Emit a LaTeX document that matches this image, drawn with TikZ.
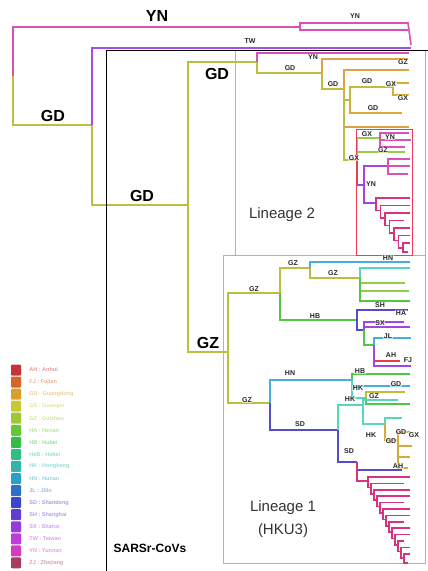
\documentclass[tikz,border=0pt]{standalone}
\usepackage{fontspec}
\setmainfont{Liberation Sans}
\usetikzlibrary{positioning}

\definecolor{cYN}{RGB}{218,80,180}
\definecolor{cTW}{RGB}{165,80,225}
\definecolor{cGD}{RGB}{188,190,64}
\definecolor{cOR}{RGB}{226,160,70}
\definecolor{cGZ}{RGB}{150,205,70}
\definecolor{cHB}{RGB}{80,200,70}
\definecolor{cHN}{RGB}{70,175,220}
\definecolor{cSD}{RGB}{85,75,205}
\definecolor{cSX}{RGB}{160,70,230}
\definecolor{cHK}{RGB}{85,215,190}
\definecolor{cAH}{RGB}{225,60,80}
\definecolor{cZJ}{RGB}{215,50,125}
\definecolor{cAU}{RGB}{212,172,55}
\definecolor{cRB}{RGB}{235,60,90}
% legend colours
\definecolor{lgA}{RGB}{200,50,60}
\definecolor{lgB}{RGB}{215,100,40}
\definecolor{lgC}{RGB}{215,160,40}
\definecolor{lgD}{RGB}{200,200,50}
\definecolor{lgE}{RGB}{160,200,50}
\definecolor{lgF}{RGB}{100,200,50}
\definecolor{lgG}{RGB}{50,190,70}
\definecolor{lgH}{RGB}{50,190,130}
\definecolor{lgI}{RGB}{50,180,170}
\definecolor{lgJ}{RGB}{40,160,200}
\definecolor{lgK}{RGB}{50,110,200}
\definecolor{lgL}{RGB}{60,70,200}
\definecolor{lgM}{RGB}{100,60,210}
\definecolor{lgN}{RGB}{150,60,220}
\definecolor{lgO}{RGB}{190,60,220}
\definecolor{lgP}{RGB}{210,60,190}
\definecolor{lgQ}{RGB}{170,60,100}

\tikzset{
  branch/.style={line width=2.2pt},
  limb/.style={line width=1.6pt},
  twig/.style={line width=1.1pt},
  bigtag/.style={font=\fontsize{16}{16}\selectfont\bfseries, inner sep=0pt},
  tag/.style={font=\fontsize{7}{7}\selectfont\bfseries, text=black!85, inner sep=0.5pt,
    fill=white, fill opacity=0.6, text opacity=1},
  cladelbl/.style={font=\fontsize{15}{23}\selectfont, text=black!80, align=center},
  frame/.style={draw=black!30, line width=0.6pt},
  legsq/.style={rectangle, minimum width=10pt, minimum height=11pt, inner sep=0pt, rounded corners=1pt},
  legtx/.style={font=\fontsize{5.5}{6}\selectfont\bfseries, inner sep=0pt},
}

\begin{document}
\begin{tikzpicture}[x=1pt, y={(0pt,-1pt)}]
\useasboundingbox (0,0) rectangle (428,571);

% clade frames
\draw[frame] (235,50) rectangle (425,255);
\draw[frame] (223,255) rectangle (425,563);

% backbone
\coordinate (root) at (13,76);
\coordinate (yn0) at (300,27);
\coordinate (ynA) at (408,23);
\coordinate (ynB) at (408,30);
\coordinate (ynC) at (411,45);
\coordinate (gd1) at (92,125);
\coordinate (tw) at (411,48);
\coordinate (gd2) at (188,205);
\coordinate (gd3) at (257,62);
\coordinate (gz1) at (228,352);

\draw[branch,cYN] (root) |- (yn0);
\draw[limb,cYN] (yn0) |- (ynA) -- (ynC);
\draw[limb,cYN] (yn0) |- (ynB);
\draw[branch,cGD] (root) |- (gd1);
\draw[branch,cTW] (gd1) |- (tw);
\draw[branch,cGD] (gd1) |- (gd2);
\draw[branch,cGD] (gd2) |- (gd3);
\draw[branch,cGD] (gd2) |- (gz1);

% lineage 2
\coordinate (ynL) at (409,53);
\coordinate (gd4) at (322,73);
\coordinate (gzL) at (408,59);
\coordinate (gd5) at (344,89);
\coordinate (orL) at (409,70);
\coordinate (orL2) at (409,127);
\coordinate (gd6) at (350,100);
\coordinate (gd7) at (393,87);
\coordinate (gxL1) at (409,83);
\coordinate (gxL2) at (409,95);
\coordinate (gdL) at (402,113);
\coordinate (gx1) at (357,160);

\draw[limb,cYN] (gd3) |- (ynL);
\draw[limb,cGD] (gd3) |- (gd4);
\draw[twig,cOR] (gd4) |- (gzL);
\draw[limb,cGD] (gd4) |- (gd5);
\draw[twig,cOR] (gd5) |- (orL);
\draw[twig,cOR] (gd5) |- (orL2);
\draw[limb,cGD] (gd5) |- (gd6);
\draw[limb,cGD] (gd5) |- (gx1);
\draw[twig,cGD] (gd6) |- (gd7);
\draw[twig,cAU] (gd6) |- (gdL);
\draw[twig,cAU] (gd7) |- (gxL1);
\draw[twig,cAU] (gd7) |- (gxL2);

% red box part
\coordinate (gx2) at (380,138);
\coordinate (mgA) at (409,133);
\coordinate (mgB) at (411,140);
\coordinate (mgC) at (405,147);
\coordinate (gzL2) at (405,152);
\coordinate (yn1) at (364,185);
\coordinate (yn2) at (388,166);
\coordinate (mgD) at (410,159);
\coordinate (mgE) at (410,166);
\coordinate (mgF) at (408,174);

\draw[limb,cGZ] (gx1) |- (gx2);
\draw[twig,cGZ] (gx1) |- (gzL2);
\draw[limb,cSX] (gx1) |- (yn1);
\foreach \m in {mgA,mgB,mgC} \draw[limb,cYN] (gx2) |- (\m);
\draw[limb,cSX] (yn1) |- (yn2);
\foreach \m in {mgD,mgE,mgF} \draw[limb,cYN] (yn2) |- (\m);
\foreach \i in {0,...,6}{
  \coordinate (rb\i) at ({376+4.5*\i},{203+7.5*\i});
  \coordinate (rl\i) at ({\i==3 ? 404 : 410},{198+7.5*\i});
}
\coordinate (rb7) at (408,252);
\draw[limb,cSX] (yn1) |- (rb0);
\foreach \i [count=\j] in {0,...,6}{
  \draw[limb,cZJ] (rb\i) |- (rl\i);
  \draw[limb,cZJ] (rb\i) |- (rb\j);
}

% lineage 1
\coordinate (gz2) at (280,293);
\coordinate (gz3) at (270,403);
\coordinate (gz4) at (310,268);
\coordinate (hb1) at (357,320);
\coordinate (hnL) at (410,262);
\coordinate (gz5) at (360,278);
\coordinate (g5a) at (410,268);
\coordinate (g5b) at (405,283);
\coordinate (g5c) at (409,291);
\coordinate (g5d) at (410,301);
\coordinate (shL) at (408,310);
\coordinate (sx1) at (364,330);
\coordinate (sxL) at (404,322);
\coordinate (sxL2) at (410,327);
\coordinate (jl1) at (374,345);
\coordinate (jlL) at (411,338);
\coordinate (ahL) at (400,361);
\coordinate (fjL) at (411,366);

\draw[branch,cGD] (gz1) |- (gz2);
\draw[branch,cGD] (gz1) |- (gz3);
\draw[limb,cGD] (gz2) |- (gz4);
\draw[limb,cHB] (gz2) |- (hb1);
\draw[twig,cHN] (gz4) |- (hnL);
\draw[limb,cGD] (gz4) |- (gz5);
\foreach \m/\c in {g5a/cHK, g5b/cGZ, g5c/cGZ, g5d/cHB} \draw[twig,\c] (gz5) |- (\m);
\draw[limb,cSD] (hb1) |- (shL);
\draw[limb,cSD] (hb1) |- (sx1);
\draw[limb,cSX] (sx1) |- (sxL);
\draw[limb,cSX] (sx1) |- (sxL2);
\draw[limb,cHB] (sx1) |- (jl1);
\draw[twig,cHN] (jl1) |- (jlL);
\draw[limb,cAH] (jl1) |- (ahL);
\draw[limb,cSX] (jl1) |- (fjL);

\coordinate (hn1) at (352,380);
\coordinate (hbL) at (410,374);
\coordinate (hbL2) at (410,386);
\coordinate (hk1) at (366,398);
\coordinate (gdL3) at (405,392);
\coordinate (grL) at (410,404);
\coordinate (sd1) at (338,430);
\coordinate (hk2) at (363,405);
\coordinate (tkL) at (398,400);
\coordinate (hk3) at (385,424);
\coordinate (tkL2) at (402,418);
\coordinate (gd8) at (398,440);
\coordinate (gdA) at (410,432);
\coordinate (gdB) at (412,446);
\coordinate (gdC) at (410,457);
\coordinate (gdD) at (408,468);
\coordinate (sd2) at (357,462);
\coordinate (ahL2) at (402,470);

\draw[limb,cHN] (gz3) |- (hn1);
\draw[limb,cSD] (gz3) |- (sd1);
\draw[twig,cHB] (hn1) |- (hbL);
\draw[twig,cHN] (hn1) |- (hbL2);
\draw[twig,cHK] (hn1) |- (hk1);
\draw[twig,cGD] (hk1) |- (gdL3);
\draw[twig,cHB] (hk1) |- (grL);
\draw[limb,cHK] (sd1) |- (hk2);
\draw[limb,cSD] (sd1) |- (sd2);
\draw[limb,cHK] (hk2) |- (tkL);
\draw[limb,cHK] (hk2) |- (hk3);
\draw[limb,cHK] (hk3) |- (tkL2);
\draw[limb,cAU] (hk3) |- (gd8);
\foreach \m in {gdA,gdB,gdC,gdD} \draw[limb,cAU] (gd8) |- (\m);
\draw[limb,cSD] (sd2) |- (ahL2);
\foreach \i in {0,...,12}{
  \coordinate (zb\i) at ({368+3*\i},{481+6.4*\i});
  \coordinate (zl\i) at ({mod(\i,3)==1 ? 404 : 410},{477+6.4*\i});
}
\coordinate (zb13) at (408,563);
\draw[limb,cZJ] (sd2) |- (zb0);
\foreach \i [count=\j] in {0,...,12}{
  \draw[limb,cZJ] (zb\i) |- (zl\i);
  \draw[limb,cZJ] (zb\i) |- (zb\j);
}

% SARSr-CoVs frame and red box
\draw[line width=1pt] (106,571) -- (106,50) -- (428,50);
\draw[cRB, line width=1pt] (356,129) rectangle (412,255);

% large labels
\node[bigtag] (bYN) at (157,16) {YN};
\node[bigtag] (bGDa) at (53,116) {GD};
\node[bigtag] (bGDb) at (142,196) {GD};
\node[bigtag] (bGDc) at (217,74) {GD};
\node[bigtag] (bGZ) at (208,343) {GZ};

% small labels
\foreach \x/\y/\t [count=\k] in {355/16/YN, 250/41/TW, 313/57/YN, 290/68/GD, 403/62/GZ,
    333/84/GD, 367/81/GD, 391/84/GX, 403/98/GX, 373/108/GD, 367/134/GX, 390/137/YN,
    383/150/GZ, 354/158/GX, 371/184/YN, 388/258/HN, 293/263/GZ, 333/273/GZ, 254/289/GZ,
    315/316/HB, 380/305/SH, 401/313/HA, 380/323/SX, 388/336/JL, 391/355/AH, 408/360/FJ,
    290/373/HN, 360/371/HB, 396/384/GD, 358/388/HK, 374/396/GZ, 350/399/HK, 247/400/GZ,
    300/424/SD, 371/435/HK, 401/432/GD, 391/441/GD, 414/435/GX, 349/451/SD, 398/466/AH}
  \node[tag] (t\k) at (\x,\y) {\t};

% clade names
\node[cladelbl] (lin2) at (282,215) {Lineage 2};
\node[cladelbl] (lin1) at (283,519) {Lineage 1\\(HKU3)};
\node[font=\fontsize{12}{12}\selectfont\bfseries] (sarsr) at (150,548) {SARSr-CoVs};

% legend
\foreach \c/\t [count=\k from 0] in {lgA/AH : Anhui, lgB/FJ : Fujian, lgC/GD : Guangdong,
    lgD/GX : Guangxi, lgE/GZ : Guizhou, lgF/HA : Henan, lgG/HB : Hubei, lgH/HeB : Hebei,
    lgI/HK : Hongkong, lgJ/HN : Hunan, lgK/JL : Jilin, lgL/SD : Shandong, lgM/SH : Shanghai,
    lgN/SX : Shanxi, lgO/TW : Taiwan, lgP/YN : Yunnan, lgQ/ZJ : Zhejiang}{
  \node[legsq, fill=\c] (sq\k) at (16,{370+12.06*\k}) {};
  \node[legtx, text=\c!50, right=8pt of sq\k] (lt\k) {\t};
}
\end{tikzpicture}
\end{document}
